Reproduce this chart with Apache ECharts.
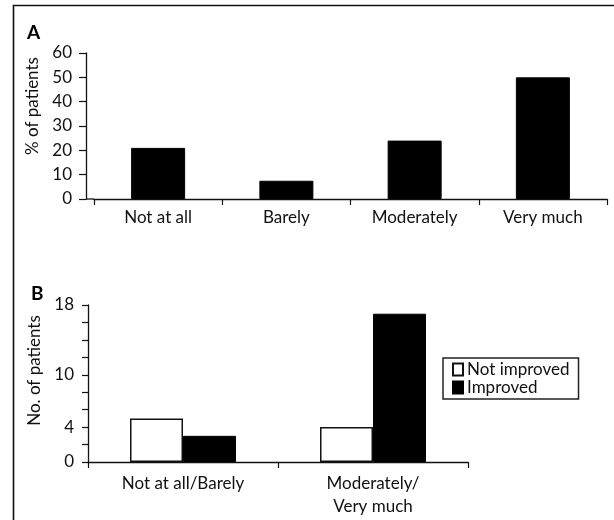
<!DOCTYPE html>
<html>
<head>
<meta charset="utf-8">
<script src="https://cdn.jsdelivr.net/npm/echarts@6/dist/echarts.min.js"></script>
<style>
html,body{margin:0;padding:0;background:#fff;}
#chart{width:614px;height:520px;}
</style>
</head>
<body>
<div id="chart"></div>
<script>
// ---- Data ----
const aCategories = ['Not at all', 'Barely', 'Moderately', 'Very much'];
const aValues = [21, 7.5, 24, 50];
const aYTicks = [0, 10, 20, 30, 40, 50, 60];

const bCategories = ['Not at all/Barely', 'Moderately/\nVery much'];
const bNotImproved = [5, 4];
const bImproved = [3, 17];
const bYTickLabels = [0, 4, 10, 18];
const bYMax = 18;

// ---- Layout ----
const FONT = 'Lato';
const TXT = '#111';
const FS = 17;
const gridA = {left: 94, top: 53, width: 513, height: 146};
const aYOffset = 8;
const gridB = {left: 88, top: 305, width: 380, height: 157};

const chart = echarts.init(document.getElementById('chart'), null, {renderer: 'canvas'});

const axisLine = {show: true, lineStyle: {color: '#111', width: 1.3}};
const labelStyle = {color: TXT, fontFamily: FONT, fontSize: FS};

const option = {
  backgroundColor: '#fff',
  animation: false,
  textStyle: {fontFamily: FONT},
  grid: [
    Object.assign({containLabel: false}, gridA),
    Object.assign({containLabel: false}, gridB)
  ],
  legend: {
    show: true,
    data: ['Not improved', 'Improved'],
    orient: 'vertical',
    left: 443,
    top: 358,
    padding: [3, 9, 3, 9],
    itemWidth: 10,
    itemHeight: 12,
    itemGap: 1,
    icon: 'rect',
    borderColor: '#222',
    borderWidth: 1.5,
    textStyle: {color: TXT, fontFamily: FONT, fontSize: FS, padding: [0, 0, 0, -1]}
  },
  xAxis: [
    {
      type: 'category', gridIndex: 0, data: aCategories,
      axisLine: axisLine,
      axisTick: {show: true, length: 6, lineStyle: {color: '#111', width: 1.2}},
      axisLabel: Object.assign({margin: 10}, labelStyle),
      splitLine: {show: false}
    },
    {
      type: 'category', gridIndex: 1, data: bCategories,
      axisLine: axisLine,
      axisTick: {show: true, length: 6, lineStyle: {color: '#111', width: 1.2}},
      axisLabel: Object.assign({margin: 10, lineHeight: 23}, labelStyle),
      splitLine: {show: false}
    }
  ],
  yAxis: [
    {
      type: 'value', gridIndex: 0, min: aYTicks[0], max: aYTicks[aYTicks.length - 1], interval: 10,
      offset: aYOffset,
      name: '% of patients', nameLocation: 'middle', nameGap: 32,
      nameTextStyle: {color: TXT, fontFamily: FONT, fontSize: FS, padding: [0, 0, 0, 40]},
      axisLine: axisLine,
      axisTick: {show: true, length: 7, lineStyle: {color: '#111', width: 1.2}},
      axisLabel: Object.assign({margin: 14}, labelStyle),
      splitLine: {show: false}
    },
    {
      type: 'value', gridIndex: 1, min: 0, max: bYMax, interval: 2,
      name: 'No. of patients', nameLocation: 'middle', nameGap: 42,
      nameTextStyle: {color: TXT, fontFamily: FONT, fontSize: FS, padding: [0, 0, 0, 26]},
      axisLine: axisLine,
      axisTick: {show: true, length: 6, lineStyle: {color: '#111', width: 1.2}},
      axisLabel: Object.assign({
        margin: 14,
        formatter: function (v) { return bYTickLabels.indexOf(v) >= 0 ? String(v) : ''; }
      }, labelStyle),
      splitLine: {show: false}
    }
  ],
  series: [
    {
      name: '% of patients', type: 'bar', xAxisIndex: 0, yAxisIndex: 0,
      data: aValues, barWidth: 54,
      itemStyle: {color: '#000', borderColor: '#000', borderWidth: 1}
    },
    {
      name: 'Not improved', type: 'bar', xAxisIndex: 1, yAxisIndex: 1,
      data: bNotImproved, barWidth: 53, barGap: '0%',
      itemStyle: {color: '#fff', borderColor: '#111', borderWidth: 1.5}
    },
    {
      name: 'Improved', type: 'bar', xAxisIndex: 1, yAxisIndex: 1,
      data: bImproved, barWidth: 53, barGap: '0%',
      itemStyle: {color: '#000', borderColor: '#000', borderWidth: 1}
    }
  ],
  graphic: [
    {
      type: 'rect', silent: true, z: -1,
      shape: {x: 13.5, y: 5.5, width: 700, height: 600},
      style: {fill: 'none', stroke: '#111', lineWidth: 1.6}
    },
    {
      type: 'line', silent: true,
      shape: {x1: gridA.left - aYOffset, y1: gridA.top + gridA.height, x2: gridA.left, y2: gridA.top + gridA.height},
      style: {stroke: '#111', lineWidth: 1.3}
    },
    {
      type: 'text', left: 27, top: 23,
      style: {text: 'A', fill: '#000', font: 'bold 19px ' + FONT}
    },
    {
      type: 'text', left: 31, top: 284,
      style: {text: 'B', fill: '#000', font: 'bold 19px ' + FONT}
    }
  ]
};
chart.setOption(option);
</script>
</body>
</html>
